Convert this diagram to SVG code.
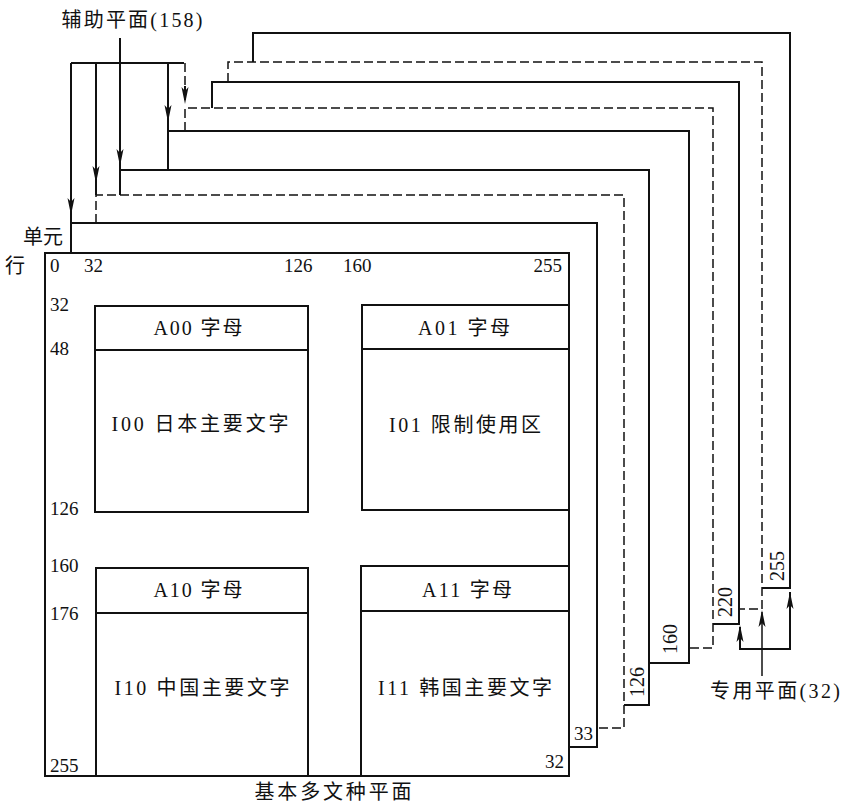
<svg xmlns="http://www.w3.org/2000/svg" xmlns:xlink="http://www.w3.org/1999/xlink" width="845" height="802" viewBox="0 0 845 802">
<style>
.s{fill:none;stroke:#111;stroke-width:2}
.d{fill:none;stroke:#111;stroke-width:1.5;stroke-dasharray:9 4}
.t{font-family:"Liberation Serif","Noto Sans CJK SC",serif;font-size:19px;fill:#111}
.c{font-family:"Liberation Serif","Noto Sans CJK SC",serif;font-size:20px;fill:#111;text-anchor:middle}
.r{font-family:"Liberation Serif",serif;font-size:20px;fill:#111;text-anchor:middle;dominant-baseline:central}
.ah{fill:#111;stroke:none}
</style>
<defs>
<path id="ahd" class="ah" d="M0,0 L-3.5,-17 L0,-13 L3.5,-17 Z"/>
</defs>
<rect width="845" height="802" fill="#fff"/>

<!-- back planes -->
<g id="plane-8"><polyline class="s" points="253,62 253,33 790,33 790,588 762,588"/><text class="r" transform="translate(777,566) rotate(-90)">255</text></g>
<g id="plane-7"><polyline class="d" points="228,82 228,62 762,62 762,609 739,609"/></g>
<g id="plane-6"><polyline class="s" points="212,108 212,82 739,82 739,624 713,624"/><text class="r" transform="translate(725,602) rotate(-90)">220</text></g>
<g id="plane-5"><polyline class="d" points="185,131 185,108 713,108 713,648 689,648"/></g>
<g id="plane-4"><polyline class="s" points="168,170 168,131 689,131 689,663 649,663"/><text class="r" transform="translate(670,639) rotate(-90)">160</text></g>
<g id="plane-3"><polyline class="s" points="120,195 120,170 649,170 649,705 624,705"/><text class="r" transform="translate(637,682) rotate(-90)">126</text></g>
<g id="plane-2"><polyline class="d" points="96,223 96,195 624,195 624,728 597,728"/></g>
<g id="plane-1"><polyline class="s" points="71,253 71,223 597,223 597,747 569,747"/><text class="t" x="574" y="740">33</text></g>

<!-- front plane -->
<g id="plane-0">
<rect class="s" x="45" y="253" width="524" height="523"/>
<text class="t" x="50" y="272">0</text>
<text class="t" x="84" y="272">32</text>
<text class="t" x="284" y="272">126</text>
<text class="t" x="343" y="272">160</text>
<text class="t" x="562" y="272" text-anchor="end">255</text>
<text class="t" x="50" y="311">32</text>
<text class="t" x="50" y="355">48</text>
<text class="t" x="50" y="515">126</text>
<text class="t" x="50" y="572">160</text>
<text class="t" x="50" y="620">176</text>
<text class="t" x="50" y="772">255</text>
<text class="t" x="564" y="768" text-anchor="end">32</text>
</g>

<g id="box-00">
<rect class="s" x="95" y="306" width="213" height="206"/>
<path class="s" d="M95,350 H308"/>
<text class="c" x="198" y="335" textLength="89" lengthAdjust="spacing">A00 字母</text>
<text class="c" x="200" y="431" textLength="177" lengthAdjust="spacing">I00 日本主要文字</text>
</g>
<g id="box-01">
<path class="s" d="M569,305 H362 V510 H569 M362,349 H569"/>
<text class="c" x="464" y="335" textLength="92" lengthAdjust="spacing">A01 字母</text>
<text class="c" x="465" y="432" textLength="152" lengthAdjust="spacing">I01 限制使用区</text>
</g>
<g id="box-10">
<path class="s" d="M96,776 V568 H308 V776 M96,613 H308"/>
<text class="c" x="198" y="597" textLength="89" lengthAdjust="spacing">A10 字母</text>
<text class="c" x="202" y="695" textLength="175" lengthAdjust="spacing">I10 中国主要文字</text>
</g>
<g id="box-11">
<path class="s" d="M569,566 H361 V776 M361,611 H569"/>
<text class="c" x="467" y="597" textLength="90" lengthAdjust="spacing">A11 字母</text>
<text class="c" x="465" y="695" textLength="174" lengthAdjust="spacing">I11 韩国主要文字</text>
</g>

<!-- labels -->
<g id="labels">
<text class="c" x="132" y="27" textLength="141" lengthAdjust="spacing">辅助平面(158)</text>
<text class="c" x="43" y="244" textLength="40" lengthAdjust="spacing">单元</text>
<text class="c" x="15" y="273">行</text>
<text class="c" x="333" y="799" textLength="157" lengthAdjust="spacing">基本多文种平面</text>
<text class="c" x="775" y="698" textLength="130" lengthAdjust="spacing">专用平面(32)</text>
</g>

<!-- connectors -->
<g id="connectors">
<path class="s" d="M71,63 H184"/>
<path class="s" d="M71,63 V253"/>
<use xlink:href="#ahd" transform="translate(71,215)"/>
<path class="s" d="M96,63 V195"/>
<use xlink:href="#ahd" transform="translate(96,183)"/>
<path class="s" d="M120,38 V170"/>
<use xlink:href="#ahd" transform="translate(120,166)"/>
<path class="s" d="M168,63 V131"/>
<use xlink:href="#ahd" transform="translate(168,122)"/>
<path class="d" d="M185,63 V100"/>
<path class="s" d="M185,86 V100"/>
<use xlink:href="#ahd" transform="translate(185,104)"/>
<path class="s" d="M740,627 V649 H790 V592"/>
<use xlink:href="#ahd" transform="translate(740,625) rotate(180)"/>
<use xlink:href="#ahd" transform="translate(790,592) rotate(180)"/>
<path class="s" d="M762,676 V612" style="stroke-width:1.5"/>
<use xlink:href="#ahd" transform="translate(762,610) rotate(180)"/>
</g>
</svg>
